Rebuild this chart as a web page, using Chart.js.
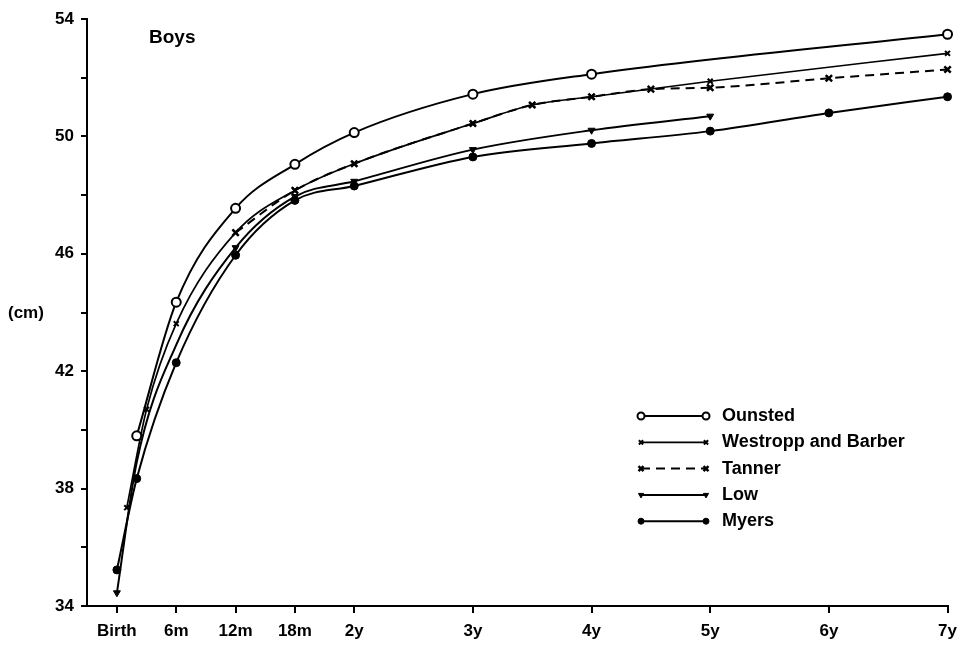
<!DOCTYPE html>
<html>
<head>
<meta charset="utf-8">
<script src="https://cdn.jsdelivr.net/npm/chart.js"></script>
<style>
  body { margin: 0; background: #fff; }
</style>
</head>
<body>
<canvas id="chart" width="965" height="649"></canvas>
<script>
// ages in years, head circumference in cm
const ounstedAge = [0.167, 0.5, 1, 1.5, 2, 3, 4, 7];
const ounstedCm  = [39.8, 44.35, 47.55, 49.05, 50.13, 51.44, 52.12, 53.48];

const westroppAge = [0.083, 0.25, 0.5, 1, 1.5, 2, 3, 3.5, 4, 5, 7];
const westroppCm  = [37.35, 40.7, 43.62, 46.72, 48.16, 49.07, 50.44, 51.07, 51.35, 51.88, 52.83];

const tannerAge = [1, 1.5, 2, 3, 3.5, 4, 4.5, 5, 6, 7];
const tannerCm  = [46.72, 48.16, 49.07, 50.44, 51.07, 51.35, 51.61, 51.66, 51.98, 52.28];

const lowAge = [0, 0.167, 0.5, 1, 1.5, 2, 3, 4, 5];
const lowCm  = [34.45, 38.9, 42.9, 46.21, 47.95, 48.47, 49.55, 50.21, 50.69];
const lowMarked = [true, false, false, true, true, true, true, true, true];

const myersAge = [0, 0.167, 0.5, 1, 1.5, 2, 3, 4, 5, 6, 7];
const myersCm  = [35.23, 38.34, 42.29, 45.95, 47.82, 48.31, 49.30, 49.76, 50.18, 50.80, 51.35];

const xTickAges   = [0, 0.5, 1, 1.5, 2, 3, 4, 5, 6, 7];
const xTickLabels = ['Birth', '6m', '12m', '18m', '2y', '3y', '4y', '5y', '6y', '7y'];

const FONT = '"Liberation Sans", Arial, sans-serif';

function pts(ages, cms) {
    return ages.map((a, i) => ({x: a, y: cms[i]}));
}

//common look of every curve
function series(label, ages, cms, extra) {
    return Object.assign({
        label: label,
        data: pts(ages, cms),
        borderColor: '#000',
        backgroundColor: '#000',
        pointBorderColor: '#000',
        borderWidth: 2,
        cubicInterpolationMode: 'monotone',
        clip: false,
    }, extra);
}

const datasets = [
    series('Ounsted', ounstedAge, ounstedCm, {
        pointStyle: 'circle', pointRadius: 4.5, pointBorderWidth: 2, pointBackgroundColor: '#fff'
    }),
    series('Westropp and Barber', westroppAge, westroppCm, {
        borderWidth: 1.7, pointStyle: 'crossRot', pointRadius: 3.5, pointBorderWidth: 2
    }),
    series('Tanner', tannerAge, tannerCm, {
        borderDash: [9, 6], pointStyle: 'crossRot', pointRadius: 4.5, pointBorderWidth: 2.5
    }),
    series('Low', lowAge, lowCm, {
        pointStyle: 'triangle', pointRotation: 180, pointBackgroundColor: '#000',
        pointRadius: lowMarked.map(m => m ? 4 : 0), pointBorderWidth: 1
    }),
    series('Myers', myersAge, myersCm, {
        pointStyle: 'circle', pointRadius: 4, pointBorderWidth: 1, pointBackgroundColor: '#000'
    }),
];

//legend with a line sample and a marker at both ends, plus the loose labels
const extras = {
    id: 'extras',
    afterDraw(chart) {
        const ctx = chart.ctx;
        ctx.save();
        ctx.fillStyle = '#000';
        ctx.textBaseline = 'middle';
        ctx.font = 'bold 19px ' + FONT;
        ctx.fillText('Boys', 149, 38);
        ctx.font = 'bold 17px ' + FONT;
        ctx.fillText('(cm)', 8, 313);

        const x0 = 641, x1 = 706, top = 416, step = 26.3;
        chart.data.datasets.forEach((ds, i) => {
            const y = top + i * step;
            ctx.strokeStyle = '#000';
            ctx.lineWidth = ds.borderWidth;
            ctx.setLineDash(ds.borderDash || []);
            ctx.beginPath();
            ctx.moveTo(x0, y);
            ctx.lineTo(x1, y);
            ctx.stroke();
            ctx.setLineDash([]);
            const r = Array.isArray(ds.pointRadius) ? 4 : ds.pointRadius;
            const opts = {
                pointStyle: ds.pointStyle,
                rotation: ds.pointRotation || 0,
                radius: Math.max(r - 1, 3),
                borderWidth: ds.pointBorderWidth,
            };
            [x0, x1].forEach(px => {
                ctx.fillStyle = ds.pointBackgroundColor || '#000';
                ctx.strokeStyle = '#000';
                ctx.lineWidth = ds.pointBorderWidth;
                Chart.helpers.drawPoint(ctx, opts, px, y);
            });
            ctx.fillStyle = '#000';
            ctx.font = 'bold 18px ' + FONT;
            ctx.fillText(ds.label, 722, y);
        });
        ctx.restore();
    }
};

new Chart(document.getElementById('chart'), {
    type: 'line',
    data: { datasets: datasets },
    plugins: [extras],
    options: {
        responsive: false,
        animation: false,
        layout: { padding: { top: 19, right: 15, left: 0, bottom: 0 } },
        plugins: {
            legend: { display: false },
            tooltip: { enabled: false },
        },
        scales: {
            x: {
                type: 'linear',
                min: -0.252,
                max: 7,
                afterBuildTicks: (scale) => {
                    scale.ticks = xTickAges.map(v => ({ value: v }));
                },
                afterFit: (scale) => { scale.height = 43; },
                ticks: {
                    autoSkip: false,
                    maxRotation: 0,
                    color: '#000',
                    padding: 8,
                    font: { family: FONT, size: 17, weight: 'bold' },
                    callback: (v, i) => xTickLabels[i],
                },
                grid: { drawOnChartArea: false, color: '#000', lineWidth: 2, tickLength: 7 },
                border: { color: '#000', width: 2 },
            },
            y: {
                min: 34,
                max: 54,
                afterFit: (scale) => { scale.width = 87; },
                ticks: {
                    stepSize: 2,
                    color: '#000',
                    padding: 7,
                    font: { family: FONT, size: 17, weight: 'bold' },
                    callback: (v) => (v - 34) % 4 === 0 ? v : '',
                },
                grid: { drawOnChartArea: false, color: '#000', lineWidth: 2, tickLength: 6 },
                border: { color: '#000', width: 2 },
            },
        },
    },
});
</script>
</body>
</html>
